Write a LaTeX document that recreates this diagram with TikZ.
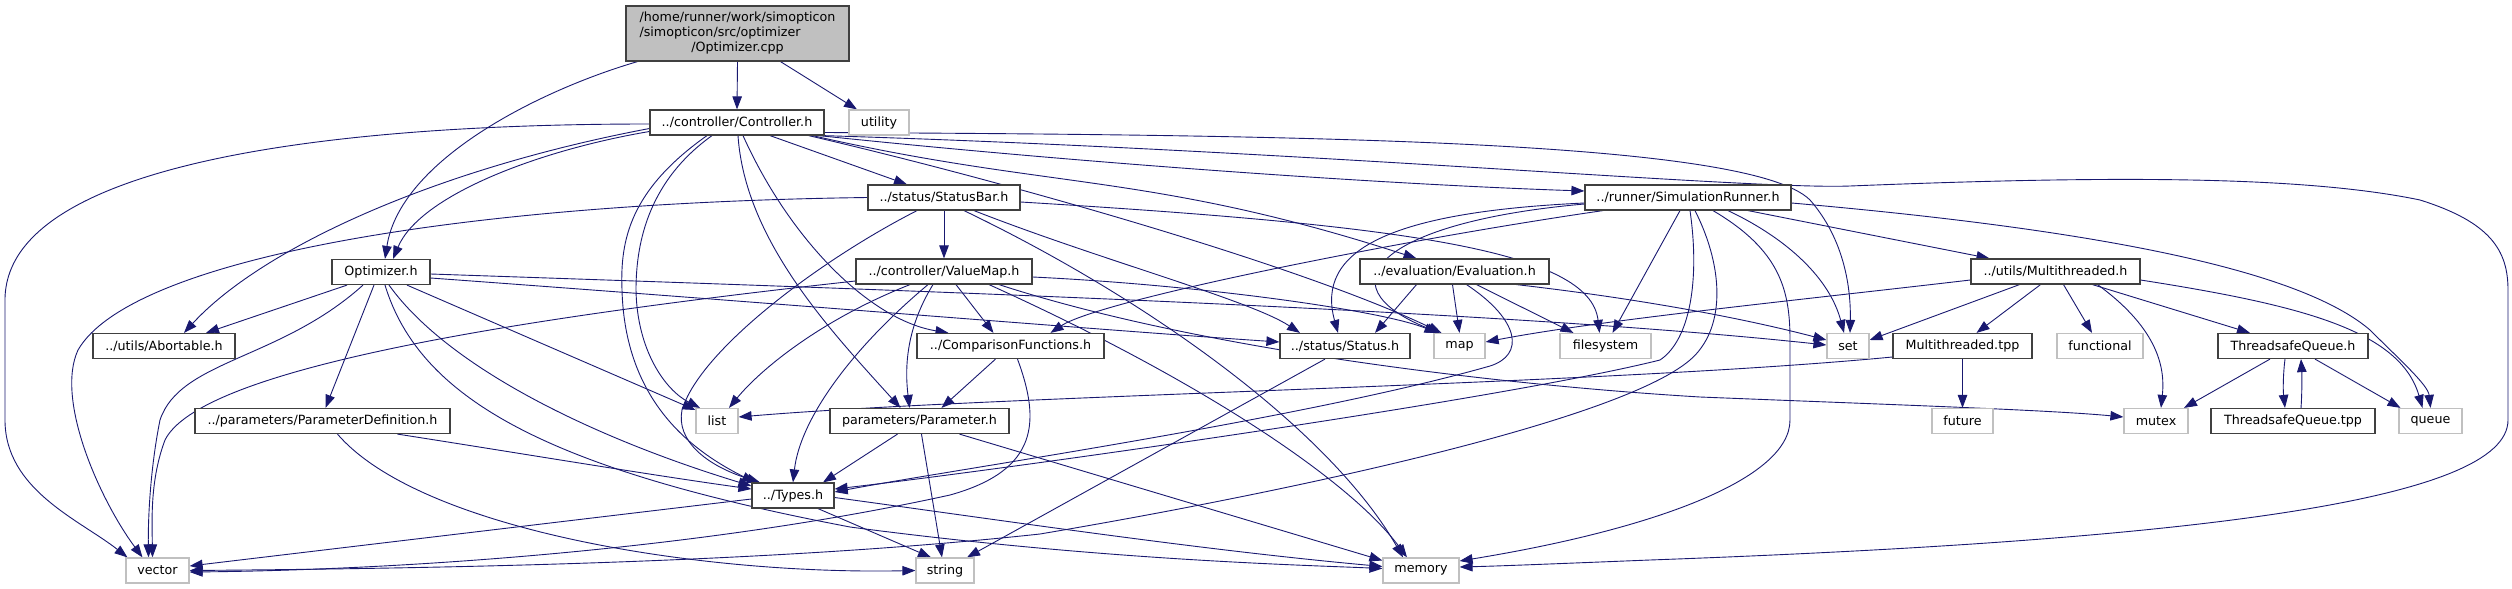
\documentclass[tikz,border=0pt]{standalone}
\usepackage{fontspec}
\setmainfont{DejaVu Sans}
\usetikzlibrary{arrows.meta}
\definecolor{eb}{HTML}{191970}
\definecolor{dk}{HTML}{404040}
\definecolor{lt}{HTML}{C0C0C0}
\newcommand\mylbl{\fontsize{12.7}{15}\selectfont}
\pgfdeclarelayer{bg}
\pgfsetlayers{bg,main}
\tikzset{
  nd/.style={draw=dk, line width=1.2pt, fill=white, minimum height=25pt, inner sep=0pt, font=\mylbl},
  sys/.style={draw=lt, line width=1.2pt, fill=white, minimum height=25pt, inner sep=0pt, font=\mylbl},
  rootnd/.style={draw=dk, line width=1.2pt, fill=lt, minimum height=55pt, minimum width=223pt, inner sep=0pt, font=\mylbl},
  edge/.style={draw=eb, line width=0.9pt, -{Triangle[length=13pt,width=9.5pt]}}
}
\begin{document}
\begin{tikzpicture}[x=1pt,y=-1pt]
\useasboundingbox (0,0) rectangle (2512,589);
% nodes
\node[rootnd] (cpp) at (737.5,33.5) {\begin{tabular}{@{}l@{}}/home/runner/work/simopticon\\/simopticon/src/optimizer\\\multicolumn{1}{@{}c@{}}{/Optimizer.cpp}\end{tabular}};
\node[nd, minimum width=174pt] (ctrl) at (737,122.5) {../controller/Controller.h};
\node[sys, minimum width=60pt] (util) at (879,122.5) {utility};
\node[nd, minimum width=152pt] (statusbar) at (944,197.5) {../status/StatusBar.h};
\node[nd, minimum width=206pt] (simrunner) at (1688,197.5) {../runner/SimulationRunner.h};
\node[nd, minimum width=98pt] (opth) at (381,272) {Optimizer.h};
\node[nd, minimum width=176pt] (valuemap) at (944,271.5) {../controller/ValueMap.h};
\node[nd, minimum width=189pt] (evaluation) at (1454.5,271.5) {../evaluation/Evaluation.h};
\node[nd, minimum width=169pt] (multithreaded) at (2055.5,271.5) {../utils/Multithreaded.h};
\node[nd, minimum width=142pt] (abortable) at (164,346) {../utils/Abortable.h};
\node[nd, minimum width=187pt] (comparison) at (1010.5,346) {../ComparisonFunctions.h};
\node[nd, minimum width=130pt] (status) at (1345,346) {../status/Status.h};
\node[sys, minimum width=51pt] (map) at (1459.5,346) {map};
\node[sys, minimum width=91pt] (filesystem) at (1605.5,346) {filesystem};
\node[sys, minimum width=42pt] (set) at (1848,346) {set};
\node[nd, minimum width=139pt] (mttpp) at (1962.5,346) {Multithreaded.tpp};
\node[sys, minimum width=86pt] (functional) at (2100,346) {functional};
\node[nd, minimum width=150pt] (tsqh) at (2293,346) {ThreadsafeQueue.h};
\node[nd, minimum width=255pt] (paramdef) at (322.5,421) {../parameters/ParameterDefinition.h};
\node[sys, minimum width=42pt] (list) at (717,421) {list};
\node[nd, minimum width=179pt] (param) at (919.5,421) {parameters/Parameter.h};
\node[sys, minimum width=61pt] (future) at (1962.5,421) {future};
\node[sys, minimum width=64pt] (mutex) at (2156,421) {mutex};
\node[nd, minimum width=164pt] (tsqtpp) at (2293,421) {ThreadsafeQueue.tpp};
\node[sys, minimum width=63pt] (queue) at (2430.5,421) {queue};
\node[nd, minimum width=82pt] (types) at (793,495.5) {../Types.h};
\node[sys, minimum width=63pt] (vector) at (157.5,570.5) {vector};
\node[sys, minimum width=58pt] (string) at (945,570.5) {string};
\node[sys, minimum width=76pt] (memory) at (1421,570.5) {memory};
\begin{pgfonlayer}{bg}
% Optimizer.cpp
\draw[edge] ([xshift=-100pt]cpp.south) .. controls (540,90) and (400,160) .. ([xshift=4pt]opth.north);
\draw[edge] (cpp.south) -- (ctrl.north);
\draw[edge] ([xshift=43pt]cpp.south) -- ([xshift=-22pt]util.north);
% Controller.h
\draw[edge] ([yshift=-1.5pt]ctrl.west) .. controls (300,124) and (5,170) .. (5,300) -- (5,420) .. controls (5,490) and (80,520) .. ([xshift=-30pt]vector.north);
\draw[edge] ([yshift=-9pt]ctrl.west) .. controls (540,150) and (420,195) .. ([xshift=12pt]opth.north);
\draw[edge] ([yshift=-6pt]ctrl.west) .. controls (430,170) and (260,250) .. ([xshift=20pt]abortable.north);
\draw[edge] ([xshift=-30pt]ctrl.south) .. controls (630,190) and (620,240) .. (622,290) .. controls (625,400) and (690,450) .. ([xshift=-38pt]types.north);
\draw[edge] ([xshift=-25pt]ctrl.south) .. controls (650,180) and (636,240) .. (636,290) .. controls (637,350) and (665,390) .. ([xshift=-17pt]list.north);
\draw[edge] ([xshift=1pt]ctrl.south) .. controls (745,240) and (830,330) .. ([xshift=-19pt]param.north);
\draw[edge] ([xshift=6pt]ctrl.south) .. controls (790,240) and (870,320) .. ([xshift=-62pt]comparison.north);
\draw[edge] ([xshift=33pt]ctrl.south) -- ([xshift=-37pt]statusbar.north);
\draw[edge] ([xshift=-16pt]ctrl.south east) .. controls (1000,180) and (1300,265) .. ([xshift=-18pt]map.north);
\draw[edge] ([xshift=-12pt]ctrl.south east) .. controls (1050,190) and (1150,172) .. ([xshift=-38pt]evaluation.north);
\draw[edge] ([xshift=-6pt]ctrl.south east) .. controls (1100,165) and (1400,185) .. ([yshift=6.5pt]simrunner.west);
\draw[edge] ([yshift=-10pt]ctrl.east) .. controls (1300,135) and (1750,140) .. (1810,200) .. controls (1845,240) and (1851,290) .. ([xshift=2pt]set.north);
\draw[edge] ([xshift=-2pt]ctrl.south east) .. controls (1300,150) and (1750,190) .. (1850,186) .. controls (2100,176) and (2300,175) .. (2420,200) .. controls (2490,222) and (2508,250) .. (2508,290) -- (2508,420) .. controls (2508,500) and (2200,540) .. (1650,560) .. controls (1550,564) and (1500,566) .. ([yshift=3.5pt]memory.east);
% StatusBar.h
\draw[edge] (statusbar.west) .. controls (450,203) and (130,260) .. (78,350) .. controls (55,400) and (100,500) .. ([xshift=-15pt]vector.north);
\draw[edge] (statusbar.south) -- (valuemap.north);
\draw[edge] ([xshift=-27pt]statusbar.south) .. controls (820,260) and (700,350) .. (682,410) .. controls (676,440) and (705,465) .. ([xshift=-33pt]types.north);
\draw[edge] ([xshift=20pt]statusbar.south) .. controls (1150,300) and (1330,430) .. ([xshift=-18pt]memory.north);
\draw[edge] ([xshift=30pt]statusbar.south) .. controls (1100,260) and (1250,300) .. ([xshift=-45pt]status.north);
\draw[edge] ([yshift=-4.5pt]statusbar.east) .. controls (1400,225) and (1590,250) .. ([xshift=-6pt]filesystem.north);
% ValueMap.h
\draw[edge] ([yshift=-9.5pt]valuemap.west) .. controls (500,320) and (200,370) .. (165,440) .. controls (150,480) and (152,520) .. ([xshift=-5pt]vector.north);
\draw[edge] ([xshift=-34pt]valuemap.south) .. controls (820,320) and (760,370) .. ([xshift=12pt]list.north);
\draw[edge] ([xshift=-16pt]valuemap.south) .. controls (850,350) and (800,420) .. (types.north);
\draw[edge] ([xshift=-11pt]valuemap.south) .. controls (905,330) and (905,370) .. ([xshift=-10pt]param.north);
\draw[edge] ([xshift=12pt]valuemap.south) -- ([xshift=-17pt]comparison.north);
\draw[edge] ([xshift=45pt]valuemap.south) .. controls (1200,380) and (1350,480) .. ([xshift=-14pt]memory.north);
\draw[edge] ([xshift=55pt]valuemap.south) .. controls (1200,350) and (1500,385) .. (1700,397) .. controls (1900,405) and (2050,410) .. ([yshift=4pt]mutex.west);
\draw[edge] ([yshift=-5.5pt]valuemap.east) .. controls (1200,285) and (1380,310) .. ([xshift=-22pt]map.north);
% Optimizer.h
\draw[edge] ([xshift=-34pt]opth.south) -- ([xshift=42pt]abortable.north);
\draw[edge] ([xshift=-18pt]opth.south) .. controls (280,360) and (180,360) .. (160,420) .. controls (150,470) and (148,520) .. ([xshift=-9pt]vector.north);
\draw[edge] ([xshift=-7pt]opth.south) -- ([xshift=3pt]paramdef.north);
\draw[edge] ([xshift=4pt]opth.south) .. controls (420,400) and (550,470) .. (850,527) .. controls (1100,560) and (1300,565) .. ([yshift=2pt]memory.west);
\draw[edge] ([xshift=8pt]opth.south) .. controls (450,370) and (600,440) .. ([yshift=9.5pt]types.west);
\draw[edge] ([xshift=26pt]opth.south) -- ([yshift=11pt]list.west);
\draw[edge] ([yshift=-2pt]opth.east) .. controls (900,290) and (1500,310) .. ([yshift=1pt]set.west);
\draw[edge] ([yshift=-6pt]opth.east) .. controls (800,305) and (1100,330) .. ([yshift=4pt]status.west);
% ParameterDefinition.h
\draw[edge] ([xshift=75pt]paramdef.south) .. controls (500,450) and (650,475) .. ([yshift=6.5pt]types.west);
\draw[edge] ([xshift=15pt]paramdef.south) .. controls (420,530) and (700,575) .. (string.west);
% ComparisonFunctions.h
\draw[edge] ([xshift=-15pt]comparison.south) -- ([xshift=22pt]param.north);
\draw[edge] ([xshift=7pt]comparison.south) .. controls (1040,420) and (1040,470) .. (950,495) .. controls (700,550) and (400,570) .. ([yshift=-1.5pt]vector.east);
% Parameter.h
\draw[edge] ([xshift=-22pt]param.south) -- ([xshift=30pt]types.north);
\draw[edge] ([xshift=2pt]param.south) -- ([xshift=-3pt]string.north);
\draw[edge] ([xshift=40pt]param.south) -- ([yshift=10pt]memory.west);
% Status.h
\draw[edge] ([xshift=-20pt]status.south) -- ([xshift=22pt]string.north);
% Types.h
\draw[edge] ([yshift=-3.5pt]types.west) -- ([yshift=4.5pt]vector.east);
\draw[edge] ([xshift=25pt]types.south) -- ([xshift=-14pt]string.north);
\draw[edge] ([yshift=-2pt]types.east) .. controls (1000,520) and (1200,550) .. ([yshift=4pt]memory.west);
% Evaluation.h
\draw[edge] ([xshift=-38pt]evaluation.south) -- ([xshift=30pt]status.north);
\draw[edge] ([xshift=-2pt]evaluation.south) -- (map.north);
\draw[edge] ([xshift=12pt]evaluation.south) .. controls (1520,320) and (1525,355) .. (1490,366) .. controls (1300,420) and (950,470) .. ([yshift=3.5pt]types.east);
\draw[edge] ([xshift=22pt]evaluation.south) -- ([xshift=-32pt]filesystem.north);
\draw[edge] ([xshift=62pt]evaluation.south) .. controls (1650,300) and (1750,320) .. ([yshift=6pt]set.west);
% SimulationRunner.h
\draw[edge] ([yshift=-5.5pt]simrunner.west) .. controls (1390,212) and (1315,250) .. ([xshift=-7pt]status.north);
\draw[edge] ([yshift=-6.5pt]simrunner.west) .. controls (1380,222) and (1320,285) .. ([xshift=-20pt]map.north);
\draw[edge] ([xshift=-85pt]simrunner.south) .. controls (1400,240) and (1100,300) .. ([xshift=40pt]comparison.north);
\draw[edge] ([xshift=-8pt]simrunner.south) -- ([xshift=7pt]filesystem.north);
\draw[edge] ([xshift=2pt]simrunner.south) .. controls (1700,280) and (1690,340) .. (1660,360) .. controls (1500,400) and (1000,470) .. ([yshift=6.5pt]types.east);
\draw[edge] ([xshift=7pt]simrunner.south) .. controls (1725,270) and (1725,330) .. (1690,360) .. controls (1620,420) and (1300,490) .. (1040,534) .. controls (800,560) and (500,568) .. (vector.east);
\draw[edge] ([xshift=25pt]simrunner.south) .. controls (1780,250) and (1790,290) .. (1790,340) -- (1790,420) .. controls (1790,480) and (1650,530) .. ([yshift=9.5pt]memory.east);
\draw[edge] ([xshift=40pt]simrunner.south) .. controls (1790,240) and (1830,280) .. ([xshift=-4pt]set.north);
\draw[edge] ([xshift=60pt]simrunner.south) -- ([xshift=-66pt]multithreaded.north);
\draw[edge] ([yshift=-5.5pt]simrunner.east) .. controls (2100,230) and (2300,270) .. (2370,330) .. controls (2400,360) and (2428,385) .. (queue.north);
% Multithreaded.h
\draw[edge] ([yshift=-8.5pt]multithreaded.west) .. controls (1800,300) and (1600,320) .. ([yshift=4pt]map.east);
\draw[edge] ([xshift=-36pt]multithreaded.south) -- ([yshift=6pt]set.east);
\draw[edge] ([xshift=-15pt]multithreaded.south) -- ([xshift=14pt]mttpp.north);
\draw[edge] ([xshift=8pt]multithreaded.south) -- ([xshift=-8pt]functional.north);
\draw[edge] ([xshift=37pt]multithreaded.south) -- ([xshift=-43pt]tsqh.north);
\draw[edge] ([xshift=42pt]multithreaded.south) .. controls (2160,330) and (2165,370) .. ([xshift=5pt]mutex.north);
\draw[edge] ([yshift=-8.5pt]multithreaded.east) .. controls (2300,305) and (2400,330) .. ([xshift=-8pt]queue.north);
% Multithreaded.tpp
\draw[edge] (mttpp.south) -- (future.north);
\draw[edge] ([yshift=-11pt]mttpp.west) .. controls (1600,385) and (1000,395) .. ([yshift=4pt]list.east);
% ThreadsafeQueue
\draw[edge] ([xshift=-23pt]tsqh.south) -- ([xshift=28pt]mutex.north);
\draw[edge] ([xshift=-8pt]tsqh.south) .. controls (2283,375) and (2283,390) .. ([xshift=-8pt]tsqtpp.north);
\draw[edge] ([xshift=8pt]tsqtpp.north) .. controls (2302,395) and (2302,375) .. ([xshift=8pt]tsqh.south);
\draw[edge] ([xshift=22pt]tsqh.south) -- ([xshift=-30pt]queue.north);
\end{pgfonlayer}
\end{tikzpicture}
\end{document}
